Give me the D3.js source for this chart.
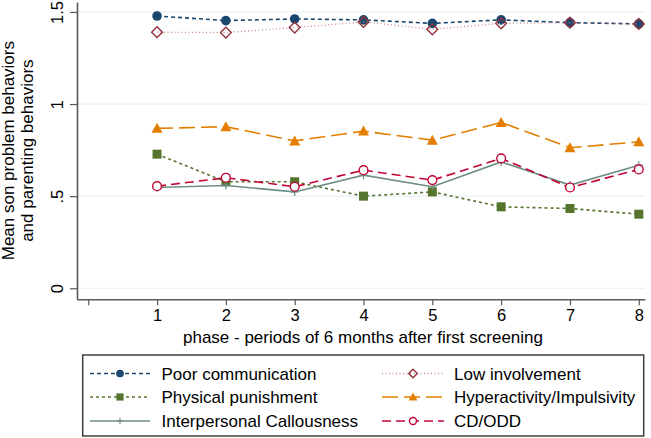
<!DOCTYPE html>
<html><head><meta charset="utf-8">
<script src="https://cdn.jsdelivr.net/npm/d3@7"></script>
<style>body{margin:0;background:#fff}svg{display:block;font-family:"Liberation Sans",Arial,Helvetica,sans-serif}</style>
</head><body><svg id="c" width="651" height="438"></svg>
<script>
const phases = [1,2,3,4,5,6,7,8];
const xTicks = [0,1,2,3,4,5,6,7,8];
const yTicks = [0,0.5,1,1.5];
const yTickLabels = ["0",".5","1","1.5"];
const poorCommunication = [1.478,1.453,1.462,1.457,1.438,1.457,1.442,1.435];
const lowInvolvement = [1.390,1.388,1.415,1.446,1.406,1.438,1.442,1.435];
const physicalPunishment = [0.728,0.578,0.578,0.500,0.523,0.442,0.433,0.402];
const hyperactivity = [0.868,0.877,0.800,0.853,0.804,0.900,0.763,0.795];
const callousness = [0.547,0.558,0.523,0.614,0.551,0.686,0.560,0.668];
const cdOdd = [0.554,0.600,0.551,0.641,0.587,0.705,0.547,0.645];
const seriesNames = ["Poor communication","Low involvement","Physical punishment","Hyperactivity/Impulsivity","Interpersonal Callousness","CD/ODD"];
const xTitle = "phase - periods of 6 months after first screening";
const yTitle = ["Mean son problem behaviors","and parenting behaviors"];

const series = [
  {name:seriesNames[0], values:poorCommunication, color:"#1a476f", dash:"4,3", marker:"circle", fill:true},
  {name:seriesNames[1], values:lowInvolvement, color:"#90353b", dash:"1,2.5", marker:"diamond", fill:false, lineColor:"#c9898d"},
  {name:seriesNames[2], values:physicalPunishment, color:"#55752f", dash:"3,3", marker:"square", fill:true},
  {name:seriesNames[3], values:hyperactivity, color:"#e37e00", dash:"16,6", marker:"triangle", fill:true},
  {name:seriesNames[4], values:callousness, color:"#6e8e84", dash:null, marker:"plus", fill:true},
  {name:seriesNames[5], values:cdOdd, color:"#c10534", dash:"9,5", marker:"circle", fill:false}
];

const FONT = "Liberation Sans, Arial, sans-serif";
const svg = d3.select("#c");
const x = d3.scaleLinear().domain([-0.163, 8.09]).range([77, 645]);
const y = d3.scaleLinear().domain([-0.06, 1.554]).range([299.3, 2]);

// gridlines
svg.append("g").selectAll("line").data(yTicks).join("line")
  .attr("x1", x.range()[0]).attr("x2", x.range()[1])
  .attr("y1", d=>y(d)).attr("y2", d=>y(d))
  .attr("stroke","#e4eef2").attr("stroke-width",1);

// axes
const xAxis = d3.axisBottom(x).tickValues(xTicks).tickFormat(d=> d===0 ? "" : d).tickSize(6).tickPadding(4).tickSizeOuter(0);
const gx = svg.append("g").attr("transform",`translate(0,${y.range()[0]})`).call(xAxis);
gx.select(".domain").attr("stroke","#595959").attr("stroke-width",1.6);
gx.selectAll(".tick line").attr("stroke","#595959").attr("stroke-width",1.2);
gx.selectAll(".tick text").attr("font-size",16.5).attr("fill","#000").attr("font-family",FONT);

const yAxis = d3.axisLeft(y).tickValues(yTicks).tickFormat((d,i)=>yTickLabels[i]).tickSize(7).tickSizeOuter(0);
const gy = svg.append("g").attr("transform",`translate(${x.range()[0]},0)`).call(yAxis);
gy.select(".domain").attr("stroke","#595959").attr("stroke-width",1.6);
gy.selectAll(".tick line").attr("stroke","#595959").attr("stroke-width",1.2);
gy.selectAll(".tick text").attr("font-size",16.5).attr("fill","#000")
  .attr("font-family",FONT)
  .attr("text-anchor","middle")
  .attr("x",0).attr("y",0).attr("dy","0.36em")
  .attr("transform","translate(-20,0) rotate(-90)");

// titles
svg.append("text").attr("x",(x.range()[0]+x.range()[1])/2+2).attr("y",343)
  .attr("text-anchor","middle").attr("font-size",17).text(xTitle);
const cy = (y.range()[0]+y.range()[1])/2;
svg.append("text").attr("transform",`translate(14,${cy}) rotate(-90)`).attr("text-anchor","middle").attr("font-size",17).text(yTitle[0]);
svg.append("text").attr("transform",`translate(33,${cy}) rotate(-90)`).attr("text-anchor","middle").attr("font-size",17).text(yTitle[1]);

function drawMarker(g, s, cx, cyy, scale){
  const c = s.color;
  if(s.marker==="circle"){
    if(s.fill) g.append("circle").attr("cx",cx).attr("cy",cyy).attr("r",4.8*scale).attr("fill",c);
    else g.append("circle").attr("cx",cx).attr("cy",cyy).attr("r",4.4*scale).attr("fill","#fff").attr("stroke",c).attr("stroke-width",1.4);
  } else if(s.marker==="diamond"){
    const r=5.4*scale;
    g.append("path").attr("d",`M${cx},${cyy-r}L${cx+r},${cyy}L${cx},${cyy+r}L${cx-r},${cyy}Z`)
      .attr("fill",s.fill?c:"#fff").attr("stroke",c).attr("stroke-width",1.4).attr("fill-opacity",s.fill?1:0);
  } else if(s.marker==="square"){
    const h=4.5*scale;
    g.append("rect").attr("x",cx-h).attr("y",cyy-h).attr("width",2*h).attr("height",2*h).attr("fill",c);
  } else if(s.marker==="triangle"){
    const w=5.5*scale, hh=5*scale;
    g.append("path").attr("d",`M${cx},${cyy-hh-0.5}L${cx+w},${cyy+hh-0.5}L${cx-w},${cyy+hh-0.5}Z`).attr("fill",c);
  } else if(s.marker==="plus"){
    const r=4*scale;
    g.append("path").attr("d",`M${cx-r},${cyy}H${cx+r}M${cx},${cyy-r}V${cyy+r}`).attr("stroke",c).attr("stroke-width",1.2);
  }
}

const line = d3.line().x((d,i)=>x(phases[i])).y(d=>y(d));
const plot = svg.append("g");
series.forEach(s=>{
  const g = plot.append("g");
  g.append("path").attr("d", line(s.values)).attr("fill","none")
    .attr("stroke", s.lineColor||s.color).attr("stroke-width", s.marker==="diamond"?1.3:1.6)
    .attr("stroke-dasharray", s.dash);
  s.values.forEach((v,i)=>drawMarker(g, s, x(phases[i]), y(v), 1));
});

// legend
const lg = svg.append("g");
lg.append("rect").attr("x",82.7).attr("y",355).attr("width",561).attr("height",81)
  .attr("fill","#fff").attr("stroke","#404040").attr("stroke-width",1.5);
const cols = [{x1:90,x2:150,tx:161.5},{x1:382,x2:444,tx:454}];
const rows = [373.5,397,421];
series.forEach((s,i)=>{
  const c = cols[i%2], ry = rows[Math.floor(i/2)];
  lg.append("line").attr("x1",c.x1).attr("x2",c.x2).attr("y1",ry).attr("y2",ry)
    .attr("stroke", s.lineColor||s.color).attr("stroke-width", s.marker==="diamond"?1.3:1.6).attr("stroke-dasharray", s.dash);
  drawMarker(lg, s, (c.x1+c.x2)/2, ry, 0.8);
  lg.append("text").attr("x",c.tx).attr("y",ry+6).attr("font-size",17).text(s.name);
});
</script></body></html>
